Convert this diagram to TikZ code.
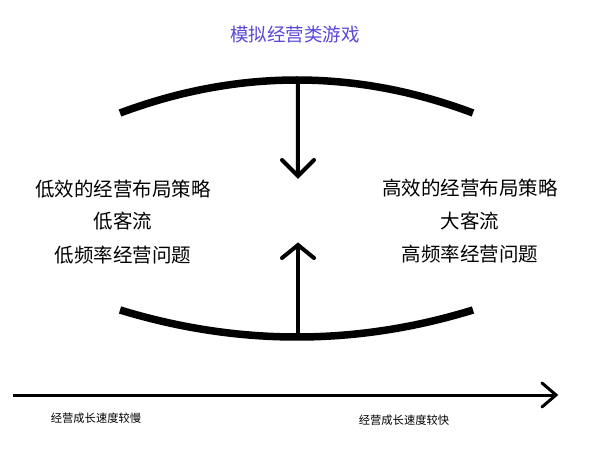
\documentclass[tikz,border=0pt]{standalone}
\usepackage{fontspec}
\newfontfamily\cjk{Noto Sans CJK SC}
\definecolor{titleblue}{RGB}{88,72,220}
\begin{document}
\begin{tikzpicture}[x=1pt,y=-1pt,
  arc/.style={line width=7.5pt},
  vline/.style={line width=4pt},
  head/.style={line width=4pt,line cap=round,line join=miter},
  axis/.style={line width=3pt},
  axishead/.style={line width=3pt,line cap=round},
  big/.style={font=\cjk\fontsize{19.5}{22}\selectfont,inner sep=0pt},
  ttl/.style={font=\cjk\fontsize{18.5}{21}\selectfont,inner sep=0pt,text=titleblue},
  small/.style={font=\cjk\fontsize{11.3}{13}\selectfont,inner sep=0pt}]
\useasboundingbox (0,0) rectangle (600,454);
\fill[white] (0,0) rectangle (600,454);
% title
\node[ttl] (title) at (295,35) {模拟经营类游戏};
% top arc
\coordinate (tl) at (120,113);
\coordinate (tr) at (473,113);
\coordinate (tm) at (298,80.5);
\draw[arc] (tl) .. controls (238,69) and (356,69) .. (tr);
\coordinate (dtip) at (298,176);
\draw[vline] (tm) -- (297.8,173);
\draw[head] (282,160) -- (dtip) -- (314,160);
% bottom arc
\coordinate (bl) at (120,310);
\coordinate (br) at (473,310);
\coordinate (bm) at (298,337);
\draw[arc] (bl) .. controls (238,346) and (356,346) .. (br);
\coordinate (utip) at (298,245);
\draw[vline] (bm) -- (298,248);
\draw[head] (282,258) -- (utip) -- (314,258);
% left texts
\node[big] (l1) at (123,189) {低效的经营布局策略};
\node[big] (l2) at (123,221) {低客流};
\node[big] (l3) at (123,255) {低频率经营问题};
% right texts
\node[big] (r1) at (470,188) {高效的经营布局策略};
\node[big] (r2) at (470,221) {大客流};
\node[big] (r3) at (470,254) {高频率经营问题};
% axis
\coordinate (a0) at (13,395);
\coordinate (a1) at (556,395);
\draw[axis] (a0) -- (a1);
\draw[axishead] (542,383) -- (a1) -- (542,407);
\node[small] (s1) at (96,418) {经营成长速度较慢};
\node[small] (s2) at (404,420) {经营成长速度较快};
\end{tikzpicture}
\end{document}
